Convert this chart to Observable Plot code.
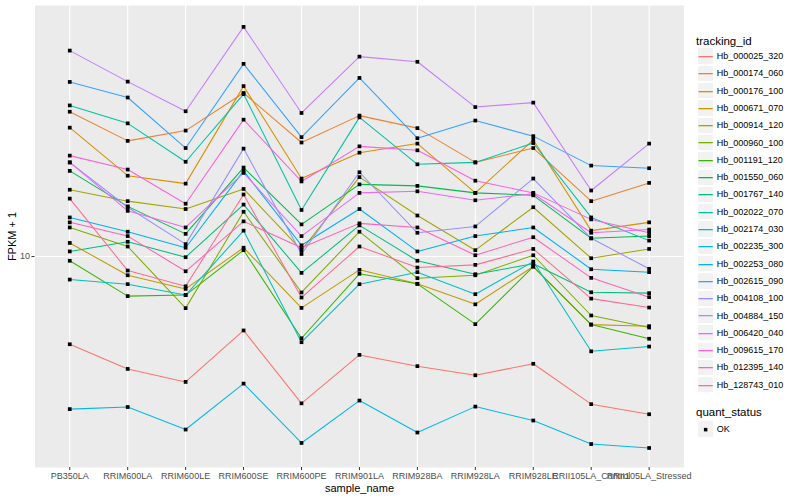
<!DOCTYPE html>
<html>
<head>
<meta charset="utf-8">
<script src="https://cdn.jsdelivr.net/npm/d3@7"></script>
<script src="https://cdn.jsdelivr.net/npm/@observablehq/plot@0.6"></script>
<style>
  html, body { margin: 0; padding: 0; background: white; }
  #wrap { position: relative; width: 800px; height: 500px; font-family: "Liberation Sans", Arial, Helvetica, sans-serif; }
  #legend { position: absolute; left: 0; top: 0; width: 800px; height: 500px; pointer-events: none; }
  .ltitle { position: absolute; left: 696px; font-size: 11.5px; color: #000; line-height: 14px; white-space: nowrap; }
  .litem { position: absolute; left: 696.5px; height: 17.3px; display: flex; align-items: center; white-space: nowrap; }
  .lkey { width: 17.3px; height: 17.3px; box-sizing: border-box; border: 0.5px solid white; background: #F2F2F2; position: relative; }
  .ltext { font-size: 9px; color: #000; margin-left: 3px; }
</style>
</head>
<body>
<div id="wrap"><div id="chart"></div><div id="legend"></div></div>
<script>
const samples = ["PB350LA","RRIM600LA","RRIM600LE","RRIM600SE","RRIM600PE","RRIM901LA","RRIM928BA","RRIM928LA","RRIM928LE","RRII105LA_Control","RRII105LA_Stressed"];

const ids = ["Hb_000025_320","Hb_000174_060","Hb_000176_100","Hb_000671_070","Hb_000914_120","Hb_000960_100","Hb_001191_120","Hb_001550_060","Hb_001767_140","Hb_002022_070","Hb_002174_030","Hb_002235_300","Hb_002253_080","Hb_002615_090","Hb_004108_100","Hb_004884_150","Hb_006420_040","Hb_009615_170","Hb_012395_140","Hb_128743_010"];

const colors = ["#F8766D","#EA8331","#D89000","#C09B00","#A3A500","#7CAE00","#39B600","#00BB4E","#00BF7D","#00C1A3","#00BFC4","#00BAE0","#00B0F6","#35A2FF","#9590FF","#C77CFF","#E76BF3","#FA62DB","#FF62BC","#FF6C91"];

// FPKM + 1 per sample (order of samples)
const Hb_000025_320 = [5.10, 4.22, 3.82, 5.67, 3.24, 4.70, 4.31, 4.02, 4.39, 3.22, 2.98];
const Hb_000174_060 = [30.4, 24.3, 26.3, 35.1, 24.0, 29.5, 26.8, 20.6, 23.0, 15.3, 17.6];
const Hb_000176_100 = [26.9, 18.6, 17.5, 37.0, 18.2, 22.2, 23.8, 16.3, 24.5, 12.2, 13.0];
const Hb_000671_070 = [11.1, 8.66, 7.80, 10.7, 6.74, 9.03, 8.11, 6.93, 9.26, 5.93, 5.86];
const Hb_000914_120 = [16.7, 15.3, 14.4, 16.8, 10.5, 18.4, 13.7, 10.5, 14.6, 9.87, 10.6];
const Hb_000960_100 = [12.5, 10.8, 6.73, 14.1, 7.59, 12.1, 8.47, 8.66, 10.1, 6.36, 5.80];
const Hb_001191_120 = [9.68, 7.38, 7.44, 10.5, 5.34, 8.76, 8.11, 5.95, 9.26, 5.93, 5.32];
const Hb_001550_060 = [19.3, 14.7, 11.9, 19.8, 12.8, 17.4, 17.2, 16.3, 16.0, 11.5, 11.7];
const Hb_001767_140 = [10.4, 11.2, 9.95, 14.9, 8.82, 12.7, 9.68, 8.73, 9.46, 7.60, 7.55];
const Hb_002022_070 = [31.9, 27.8, 20.7, 34.8, 14.3, 29.1, 20.3, 20.6, 23.9, 13.5, 11.3];
const Hb_002174_030 = [8.38, 8.09, 7.44, 12.2, 5.18, 8.09, 8.87, 7.49, 9.62, 4.83, 5.01];
const Hb_002235_300 = [3.10, 3.15, 2.65, 3.77, 2.39, 3.31, 2.59, 3.16, 2.84, 2.37, 2.30];
const Hb_002253_080 = [13.5, 12.1, 10.7, 19.3, 10.9, 14.4, 10.4, 11.7, 12.5, 9.07, 8.87];
const Hb_002615_090 = [38.2, 33.9, 23.0, 43.9, 25.0, 39.4, 24.8, 28.4, 25.2, 20.1, 19.7];
const Hb_004108_100 = [20.6, 14.6, 11.0, 22.9, 10.2, 19.1, 12.0, 12.6, 18.2, 11.5, 9.10];
const Hb_004884_150 = [48.6, 38.3, 30.5, 58.3, 30.1, 46.4, 44.6, 31.5, 32.6, 16.6, 23.8];
const Hb_006420_040 = [20.6, 14.2, 12.5, 19.0, 11.7, 16.3, 16.5, 15.4, 16.2, 12.0, 12.3];
const Hb_009615_170 = [21.7, 19.5, 15.0, 28.6, 17.8, 23.3, 22.6, 17.9, 16.3, 13.3, 12.0];
const Hb_012395_140 = [13.0, 11.7, 8.93, 13.1, 10.7, 12.9, 12.5, 10.1, 11.6, 8.49, 7.32];
const Hb_128743_010 = [15.6, 8.98, 7.96, 16.1, 7.30, 10.8, 9.19, 9.38, 10.6, 7.24, 6.76];

const seriesValues = [Hb_000025_320, Hb_000174_060, Hb_000176_100, Hb_000671_070, Hb_000914_120, Hb_000960_100, Hb_001191_120, Hb_001550_060, Hb_001767_140, Hb_002022_070, Hb_002174_030, Hb_002235_300, Hb_002253_080, Hb_002615_090, Hb_004108_100, Hb_004884_150, Hb_006420_040, Hb_009615_170, Hb_012395_140, Hb_128743_010];

const yTicks = [10];
const quantStatus = ["OK"];

const rows = [];
ids.forEach((id, i) => {
  samples.forEach((s, j) => rows.push({id, sample: s, value: seriesValues[i][j], status: "OK"}));
});

const font = "Liberation Sans, Arial, Helvetica, sans-serif";

const chart = Plot.plot({
  width: 800,
  height: 500,
  marginLeft: 34.5,
  marginRight: 116.6,
  marginTop: 5,
  marginBottom: 33,
  style: {fontFamily: font, background: "white", overflow: "visible"},
  x: {type: "point", domain: samples, padding: 0.6, round: false},
  y: {type: "log", domain: [1.98, 68.7]},
  color: {domain: ids, range: colors},
  marks: [
    Plot.frame({fill: "#EBEBEB", stroke: null}),
    Plot.gridX({stroke: "white", strokeOpacity: 1, strokeWidth: 1.1}),
    Plot.gridY({ticks: yTicks, stroke: "white", strokeOpacity: 1, strokeWidth: 1.1}),
    Plot.line(rows, {x: "sample", y: "value", z: "id", stroke: "id", strokeWidth: 1.05}),
    Plot.dot(rows, {x: "sample", y: "value", symbol: "square", fill: "black", r: 2.1}),
    Plot.axisX({tickSize: 3, tickPadding: 2, fontSize: 9, label: null, stroke: "#333333", fill: "#4D4D4D"}),
    Plot.axisY({ticks: yTicks, tickFormat: d => String(d), tickSize: 3, tickPadding: 2, fontSize: 9, label: null, stroke: "#333333", fill: "#4D4D4D"}),
    Plot.text(["FPKM + 1"], {frameAnchor: "left", rotate: -90, dx: -23, fontSize: 11, textAnchor: "middle", lineAnchor: "middle", fill: "black"}),
    Plot.text(["sample_name"], {frameAnchor: "bottom", dy: 21, fontSize: 11, textAnchor: "middle", lineAnchor: "middle", fill: "black"})
  ]
});
document.getElementById("chart").appendChild(chart);

// Legend (to the right of the panel)
const legend = d3.select("#legend");
legend.append("div").attr("class", "ltitle").style("top", "33.7px").text("tracking_id");
ids.forEach((id, i) => {
  const item = legend.append("div").attr("class", "litem").style("top", (47.4 + i * 17.3) + "px");
  const key = item.append("div").attr("class", "lkey");
  key.append("svg").attr("width", 17.3).attr("height", 17.3).style("position", "absolute").style("left", "-0.5px").style("top", "-0.5px")
    .append("line").attr("x1", 1.5).attr("x2", 15.8).attr("y1", 8.65).attr("y2", 8.65)
    .attr("stroke", colors[i]).attr("stroke-width", 1.3);
  item.append("span").attr("class", "ltext").text(id);
});
legend.append("div").attr("class", "ltitle").style("top", "405.3px").text("quant_status");
quantStatus.forEach((q, i) => {
  const item = legend.append("div").attr("class", "litem").style("top", (420.4 + i * 17.3) + "px");
  const key = item.append("div").attr("class", "lkey");
  key.append("svg").attr("width", 17.3).attr("height", 17.3).style("position", "absolute").style("left", "-0.5px").style("top", "-0.5px")
    .append("rect").attr("x", 6.9).attr("y", 6.9).attr("width", 3.5).attr("height", 3.5).attr("fill", "black");
  item.append("span").attr("class", "ltext").text(q);
});
</script>
</body>
</html>
